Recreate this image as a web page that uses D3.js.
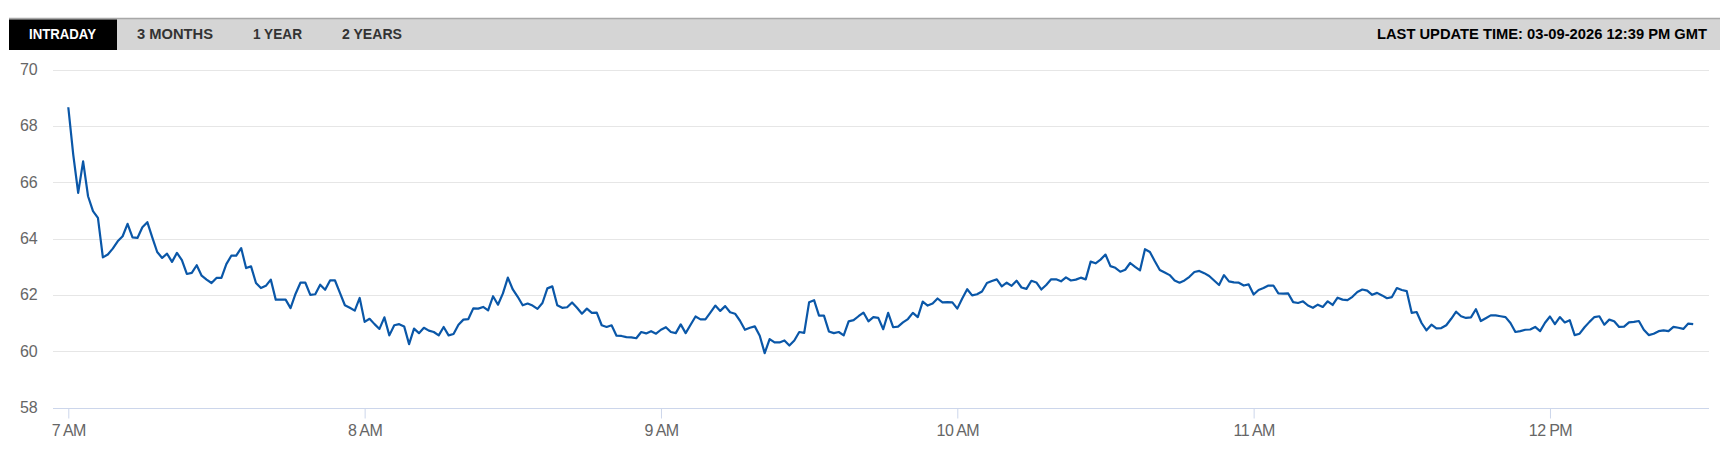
<!DOCTYPE html>
<html>
<head>
<meta charset="utf-8">
<script src="https://cdn.jsdelivr.net/npm/d3@7/dist/d3.min.js"></script>
<style>
  html, body { margin: 0; padding: 0; background: #fff; }
  svg { display: block; font-family: "Liberation Sans", Arial, sans-serif; }
</style>
</head>
<body>
<svg id="chart" width="1734" height="454"></svg>
<script>
// ---- data ----
const tabs = ["INTRADAY", "3 MONTHS", "1 YEAR", "2 YEARS"];
const activeTab = "INTRADAY";
const updateText = "LAST UPDATE TIME: 03-09-2026 12:39 PM GMT";
const sessionDate = "2026-03-09";
const startTime = "07:00";        // first sample, one sample per minute
const yTicks = [58, 60, 62, 64, 66, 68, 70];
const xTickLabels = ["7 AM", "8 AM", "9 AM", "10 AM", "11 AM", "12 PM"];
const values = [
  68.66, 66.98, 65.62, 66.74, 65.50, 64.97, 64.73, 63.33, 63.43, 63.64,
  63.90, 64.08, 64.52, 64.04, 64.02, 64.40, 64.58, 64.04, 63.52, 63.31,
  63.46, 63.17, 63.49, 63.23, 62.74, 62.78, 63.05, 62.68, 62.54, 62.42,
  62.60, 62.60, 63.09, 63.39, 63.39, 63.66, 62.95, 63.01, 62.42, 62.24,
  62.32, 62.54, 61.83, 61.83, 61.83, 61.53, 62.03, 62.43, 62.43, 62.00,
  62.02, 62.36, 62.18, 62.51, 62.51, 62.07, 61.63, 61.54, 61.44, 61.89,
  61.04, 61.15, 60.96, 60.79, 61.20, 60.56, 60.92, 60.96, 60.88, 60.25,
  60.80, 60.64, 60.83, 60.73, 60.68, 60.56, 60.86, 60.56, 60.61, 60.94,
  61.12, 61.14, 61.52, 61.51, 61.57, 61.45, 61.95, 61.65, 62.05, 62.61,
  62.19, 61.93, 61.63, 61.69, 61.62, 61.50, 61.71, 62.23, 62.30, 61.63,
  61.54, 61.56, 61.73, 61.54, 61.33, 61.51, 61.36, 61.37, 60.92, 60.86,
  60.92, 60.55, 60.54, 60.50, 60.49, 60.46, 60.68, 60.63, 60.71, 60.62,
  60.76, 60.85, 60.68, 60.64, 60.95, 60.64, 60.94, 61.23, 61.13, 61.13,
  61.37, 61.62, 61.43, 61.60, 61.38, 61.33, 61.08, 60.76, 60.83, 60.88,
  60.55, 59.93, 60.43, 60.31, 60.31, 60.38, 60.20, 60.38, 60.68, 60.65,
  61.74, 61.81, 61.26, 61.26, 60.70, 60.64, 60.68, 60.56, 61.06, 61.10,
  61.24, 61.37, 61.06, 61.21, 61.18, 60.78, 61.36, 60.85, 60.87, 61.02,
  61.14, 61.36, 61.21, 61.76, 61.62, 61.69, 61.87, 61.73, 61.74, 61.73,
  61.51, 61.87, 62.20, 61.98, 62.02, 62.12, 62.42, 62.49, 62.55, 62.30,
  62.43, 62.32, 62.50, 62.26, 62.21, 62.50, 62.44, 62.19, 62.35, 62.55,
  62.55, 62.48, 62.62, 62.51, 62.54, 62.61, 62.55, 63.18, 63.12, 63.25,
  63.43, 63.02, 62.96, 62.82, 62.89, 63.13, 62.99, 62.87, 63.62, 63.52,
  63.19, 62.88, 62.79, 62.70, 62.51, 62.43, 62.51, 62.64, 62.81, 62.85,
  62.77, 62.67, 62.51, 62.35, 62.70, 62.48, 62.44, 62.43, 62.33, 62.37,
  62.01, 62.17, 62.24, 62.33, 62.33, 62.05, 62.04, 62.05, 61.74, 61.71,
  61.77, 61.62, 61.54, 61.65, 61.57, 61.77, 61.64, 61.90, 61.83, 61.81,
  61.93, 62.10, 62.19, 62.15, 62.00, 62.07, 61.98, 61.88, 61.92, 62.24,
  62.17, 62.13, 61.36, 61.39, 61.00, 60.74, 60.94, 60.81, 60.82, 60.92,
  61.15, 61.40, 61.24, 61.18, 61.20, 61.49, 61.07, 61.17, 61.27, 61.27,
  61.24, 61.21, 61.00, 60.68, 60.71, 60.76, 60.77, 60.86, 60.71, 61.01,
  61.23, 60.96, 61.21, 61.02, 61.10, 60.57, 60.62, 60.85, 61.04, 61.21,
  61.24, 60.94, 61.12, 61.06, 60.86, 60.87, 61.02, 61.04, 61.07, 60.76,
  60.57, 60.62, 60.71, 60.74, 60.71, 60.86, 60.83, 60.79, 60.98, 60.96
];

// ---- build series ----
const t0 = new Date(sessionDate + "T" + startTime + ":00Z");
const series = values.map((v, i) => ({ t: d3.utcMinute.offset(t0, i), v }));

// ---- layout ----
const svg = d3.select("#chart");
const plot = { left: 53, right: 1709, top: 69.5, bottom: 407.5 };
const firstX = 68.3, lastX = 1693.2;

const x = d3.scaleUtc()
  .domain(d3.extent(series, d => d.t))
  .range([firstX, lastX]);
const y = d3.scaleLinear()
  .domain([d3.min(yTicks), d3.max(yTicks)])
  .range([plot.bottom, plot.top]);

// ---- header bar ----
const header = svg.append("g");
header.append("rect")
  .attr("x", 9).attr("y", 18).attr("width", 1711).attr("height", 32)
  .attr("fill", "#d5d5d5");
header.append("line")
  .attr("x1", 9).attr("x2", 1720).attr("y1", 18.5).attr("y2", 18.5)
  .attr("stroke", "#a8a8a8").attr("stroke-width", 1.5);
const tabX = [29, 137, 253, 342];
const tabW = [67, 76, 49, 60];
header.append("rect")
  .attr("x", 9).attr("y", 19.5).attr("width", 108).attr("height", 30.5)
  .attr("fill", "#000");
header.selectAll("text.tab").data(tabs).join("text")
  .attr("class", "tab")
  .attr("x", (d, i) => tabX[i]).attr("y", 39.3)
  .attr("font-size", 14).attr("font-weight", "bold")
  .attr("textLength", (d, i) => tabW[i]).attr("lengthAdjust", "spacingAndGlyphs")
  .attr("fill", d => d === activeTab ? "#fff" : "#333")
  .text(d => d);
header.append("text")
  .attr("x", 1707).attr("y", 39.3)
  .attr("text-anchor", "end")
  .attr("font-size", 14).attr("font-weight", "bold")
  .attr("fill", "#000")
  .attr("textLength", 330).attr("lengthAdjust", "spacingAndGlyphs")
  .text(updateText);

// ---- grid + y labels ----
const grid = svg.append("g");
grid.selectAll("line").data(yTicks.filter(d => d !== d3.min(yTicks))).join("line")
  .attr("x1", plot.left).attr("x2", plot.right)
  .attr("y1", d => Math.round(y(d)) + 0.5).attr("y2", d => Math.round(y(d)) + 0.5)
  .attr("stroke", "#e6e6e6").attr("stroke-width", 1);
svg.append("g").selectAll("text").data(yTicks).join("text")
  .attr("x", 37.7).attr("y", d => y(d))
  .attr("dy", "0.35em")
  .attr("text-anchor", "end")
  .attr("font-size", 16).attr("fill", "#666")
  .text(d => d);

// ---- x axis ----
const hourTicks = d3.utcHour.range(t0, d3.utcMinute.offset(t0, values.length));
const xAxis = d3.axisBottom(x)
  .tickValues(hourTicks)
  .tickSize(10)
  .tickPadding(6)
  .tickFormat((d, i) => xTickLabels[i]);
const gx = svg.append("g")
  .attr("transform", `translate(0,${Math.round(plot.bottom) + 0.5})`)
  .call(xAxis);
gx.select(".domain").remove();
gx.append("line")
  .attr("x1", plot.left).attr("x2", plot.right)
  .attr("stroke", "#ccd6eb").attr("stroke-width", 1);
gx.selectAll(".tick line").attr("stroke", "#ccd6eb");
gx.selectAll(".tick text")
  .attr("font-size", 16).attr("fill", "#666")
  .attr("font-family", "'Liberation Sans', Arial, sans-serif")
  .attr("letter-spacing", "-0.6px");

// ---- line ----
const line = d3.line()
  .x(d => x(d.t))
  .y(d => y(d.v));
svg.append("path")
  .datum(series)
  .attr("fill", "none")
  .attr("stroke", "#0a57a8")
  .attr("stroke-width", 2.2)
  .attr("stroke-linejoin", "round")
  .attr("d", line);
</script>
</body>
</html>
